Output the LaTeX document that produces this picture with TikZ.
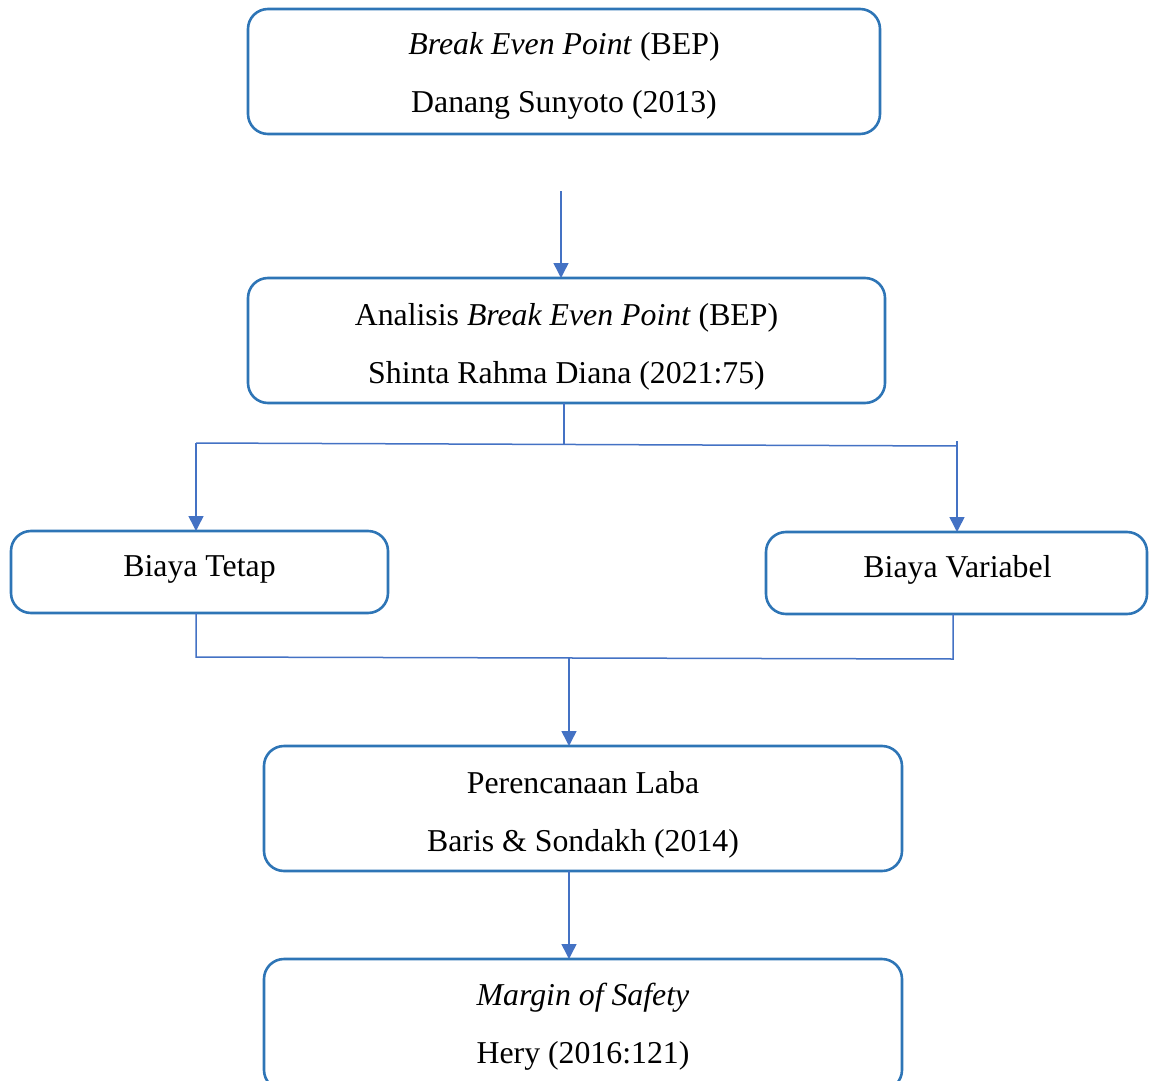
\documentclass[tikz,border=0pt]{standalone}
\usepackage{fontspec}
\setmainfont{Liberation Serif}
\usetikzlibrary{arrows.meta}
\definecolor{boxblue}{RGB}{46,117,182}
\definecolor{lineblue}{RGB}{68,114,196}
\begin{document}
\begin{tikzpicture}[x=1pt,y=-1pt,
  box/.style={draw=boxblue, line width=2.6pt, rounded corners=20pt, inner sep=0pt, outer sep=0pt},
  txt/.style={anchor=base, inner sep=0pt, font=\fontsize{31.8}{38}\selectfont},
  conn/.style={draw=lineblue, line width=1.5pt},
  arr/.style={conn, -{Triangle[width=15pt,length=15pt]}}]
\useasboundingbox (0,0) rectangle (1149,1081);
\clip (0,0) rectangle (1149,1081);
% boxes
\node[box, minimum width=632pt, minimum height=125pt] (b1) at (564,71.5) {};
\node[box, minimum width=637pt, minimum height=125pt] (b2) at (566.5,340.5) {};
\node[box, minimum width=377pt, minimum height=82pt] (b3) at (199.5,572) {};
\node[box, minimum width=381pt, minimum height=82pt] (b4) at (956.5,573) {};
\node[box, minimum width=638pt, minimum height=125pt] (b5) at (583,808.5) {};
\node[box, minimum width=638pt, minimum height=131pt] (b6) at (583,1024.5) {};
% texts
\node[txt] (t1a) at (564,55) {\textit{Break Even Point} (BEP)};
\node[txt] (t1b) at (564,113) {Danang Sunyoto (2013)};
\node[txt] (t2a) at (566.5,325) {Analisis \textit{Break Even Point} (BEP)};
\node[txt] (t2b) at (566.5,383) {Shinta Rahma Diana (2021:75)};
\node[txt] (t3) at (199.5,576) {Biaya Tetap};
\node[txt] (t4) at (957.5,577) {Biaya Variabel};
\node[txt] (t5a) at (583,793) {Perencanaan Laba};
\node[txt] (t5b) at (583,851) {Baris \& Sondakh (2014)};
\node[txt] (t6a) at (583,1005) {\textit{Margin of Safety}};
\node[txt] (t6b) at (583,1063) {Hery (2016:121)};
% connectors
\coordinate (c1) at (561,191);
\draw[arr] (c1) -- (c1 |- b2.north);
\coordinate (j1) at (564,444);
\draw[conn] (j1 |- b2.south) -- (j1);
\coordinate (l1) at (196,443);
\coordinate (r1) at (957,446);
\coordinate (r1t) at (957,441);
\draw[conn] (l1) -- (r1);
\draw[arr] (l1) -- (l1 |- b3.north);
\draw[arr] (r1t) -- (r1 |- b4.north);
\coordinate (l2) at (196,657);
\coordinate (r2) at (953,659);
\coordinate (j2) at (569,658);
\draw[conn] (l2 |- b3.south) -- (l2) -- (r2) -- (r2 |- b4.south);
\draw[arr] (j2) -- (j2 |- b5.north);
\coordinate (j3) at (569,871);
\draw[arr] (j3 |- b5.south) -- (j3 |- b6.north);
\end{tikzpicture}
\end{document}
